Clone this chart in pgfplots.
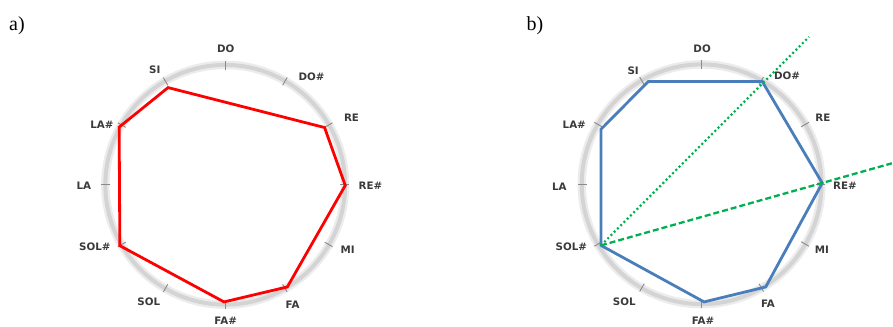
\documentclass[border=0pt]{standalone}
\usepackage{pgfplots}
\pgfplotsset{compat=1.18}
\usepackage{fontspec}
\setmainfont{Liberation Serif}
\newfontfamily\lblfont{DejaVu Sans}
\definecolor{ringc}{HTML}{D4D4D4}
\definecolor{ringo}{HTML}{ECECEC}
\definecolor{tickc}{HTML}{8A8A8A}
\definecolor{lblc}{HTML}{3A3A3A}
\definecolor{polyred}{HTML}{FF0000}
\definecolor{polyblue}{HTML}{4A7EBB}
\definecolor{grn}{HTML}{00B050}
\tikzset{lbl/.style={font=\lblfont\bfseries\fontsize{10.3}{11}\selectfont, text=lblc, inner sep=0pt}}
\begin{document}
\begin{tikzpicture}
\begin{axis}[
  x=1pt, y=1pt, y dir=reverse,
  xmin=0, xmax=893, ymin=0, ymax=327,
  hide axis, clip=false,
]
\addplot[draw=none] coordinates {(0,0) (893,327)};
% rings
\draw[line width=8.5pt, color=ringo] (axis cs:225.5,185) circle[radius=120pt];
\draw[line width=4pt, color=ringc] (axis cs:225.5,185) circle[radius=120pt];
\draw[line width=8.5pt, color=ringo] (axis cs:702.5,184.5) circle[radius=120pt];
\draw[line width=4pt, color=ringc] (axis cs:702.5,184.5) circle[radius=120pt];
\pgfplotsinvokeforeach{0,30,...,330}{
  \draw[tickc, line width=0.9pt] (axis cs:{225.5+115*sin(#1)},{185-115*cos(#1)}) -- (axis cs:{225.5+124*sin(#1)},{185-124*cos(#1)});
  \draw[tickc, line width=0.9pt] (axis cs:{702.5+115*sin(#1)},{184.5-115*cos(#1)}) -- (axis cs:{702.5+124*sin(#1)},{184.5-124*cos(#1)});
}
% panel a polygon: SI, RE, RE#, FA, FA#, SOL#, LA#
\addplot[polyred, line width=2.8pt, line join=miter] coordinates {
  (168.3,87.7) (325.0,127.7) (345.7,185.7) (287.7,287.3) (224.3,302.3) (120.0,246.0) (119.3,127.3) (168.3,87.7)
} -- cycle;
% panel b polygon: SI, DO#, RE#, FA, FA#, SOL#, LA#
\addplot[polyblue, line width=2.8pt, line join=miter] coordinates {
  (649.0,81.7) (763.3,81.7) (823.3,183.3) (766.7,287.3) (705.0,302.3) (601.7,245.7) (601.7,129.5) (649.0,81.7)
} -- cycle;
% green lines from SOL#
\addplot[grn, line width=2.2pt, dash pattern=on 2pt off 2.6pt] coordinates {(601.7,245.7) (810,37)};
\addplot[grn, line width=2.3pt, dash pattern=on 6pt off 3pt] coordinates {(601.7,245.7) (893,163.5)};
% labels a
\node[lbl] at (axis cs:226,48.5) {DO};
\node[lbl] at (axis cs:312,77) {DO\#};
\node[lbl] at (axis cs:352,118) {RE};
\node[lbl] at (axis cs:371,186) {RE\#};
\node[lbl] at (axis cs:348,250) {MI};
\node[lbl] at (axis cs:293,305) {FA};
\node[lbl] at (axis cs:226,321) {FA\#};
\node[lbl] at (axis cs:149,302) {SOL};
\node[lbl] at (axis cs:95,247) {SOL\#};
\node[lbl] at (axis cs:84,186) {LA};
\node[lbl] at (axis cs:102,125) {LA\#};
\node[lbl] at (axis cs:155,70) {SI};
% labels b
\node[lbl] at (axis cs:703,49) {DO};
\node[lbl] at (axis cs:788,76) {DO\#};
\node[lbl] at (axis cs:824,118) {RE};
\node[lbl] at (axis cs:846,186) {RE\#};
\node[lbl] at (axis cs:823,250) {MI};
\node[lbl] at (axis cs:769,304) {FA};
\node[lbl] at (axis cs:704,321) {FA\#};
\node[lbl] at (axis cs:625,302) {SOL};
\node[lbl] at (axis cs:572,247) {SOL\#};
\node[lbl] at (axis cs:560,187) {LA};
\node[lbl] at (axis cs:575,125) {LA\#};
\node[lbl] at (axis cs:634,71) {SI};
% panel letters
\node[anchor=base west, font=\rmfamily\fontsize{20}{22}\selectfont, text=black, inner sep=0pt] at (axis cs:9,31) {a)};
\node[anchor=base west, font=\rmfamily\fontsize{20}{22}\selectfont, text=black, inner sep=0pt] at (axis cs:527,31) {b)};
\end{axis}
\end{tikzpicture}
\end{document}
